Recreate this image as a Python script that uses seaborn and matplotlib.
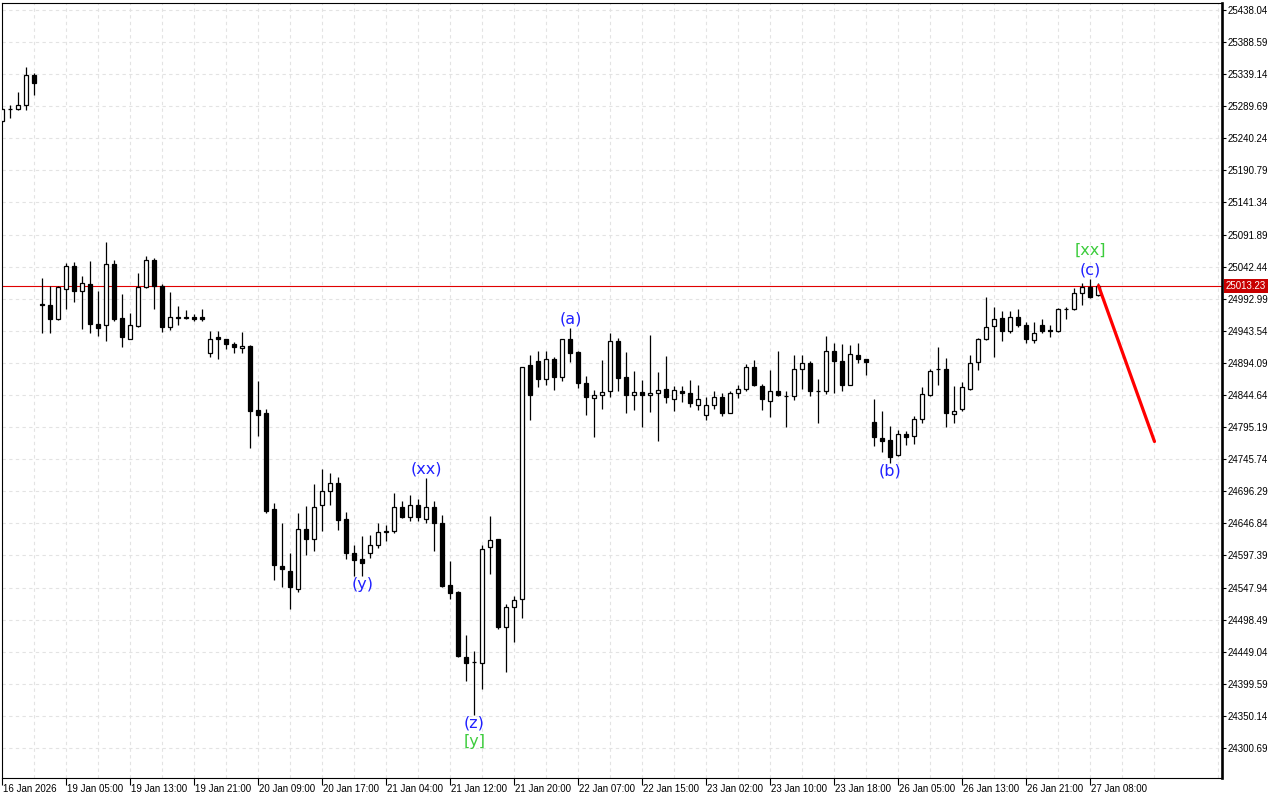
import numpy as np
import pandas as pd
import matplotlib
matplotlib.use("Agg")
import matplotlib.pyplot as plt
import matplotlib.transforms as mtransforms
import seaborn as sns

# hourly candles, one row per bar (bar index 0..137)
opens = [25266.5, 25286.0, 25285.9, 25291.1, 25337.4, 24985.0, 24982.9, 24962.3, 25007.6, 25043.5,
         25005.4, 25015.8, 24954.1, 24952.1, 25046.6, 24963.4, 24931.5, 24951.0, 25010.7, 25052.7,
         25012.7, 24949.0, 24964.4, 24964.0, 24965.4, 24965.4, 24909.0, 24934.6, 24930.5, 24923.3,
         24917.1, 24920.2, 24821.6, 24816.5, 24669.5, 24581.0, 24573.0, 24546.2, 24638.7, 24623.3,
         24674.7, 24697.2, 24708.6, 24653.1, 24600.8, 24591.5, 24600.8, 24614.0, 24634.0, 24634.7,
         24672.6, 24657.2, 24674.7, 24653.1, 24671.6, 24647.0, 24551.5, 24541.1, 24440.5, 24433.0,
         24432.2, 24610.0, 24622.3, 24487.6, 24517.5, 24529.9, 24890.5, 24897.6, 24868.9, 24900.6,
         24872.9, 24930.5, 24911.0, 24862.7, 24840.1, 24844.2, 24850.4, 24927.5, 24872.0, 24844.2,
         24849.3, 24844.2, 24847.3, 24853.5, 24839.0, 24851.3, 24848.2, 24829.8, 24814.3, 24829.8,
         24841.2, 24817.4, 24847.3, 24854.4, 24887.4, 24858.6, 24835.0, 24850.4, 24843.5, 24843.2,
         24885.2, 24894.5, 24851.3, 24851.3, 24912.0, 24896.6, 24860.6, 24905.9, 24899.7, 24803.1,
         24778.4, 24775.3, 24751.8, 24784.6, 24781.5, 24808.2, 24844.2, 24884.3, 24885.2, 24815.4,
         24822.7, 24853.5, 24895.6, 24930.5, 24951.0, 24963.4, 24942.8, 24964.4, 24952.1, 24929.5,
         24953.0, 24944.9, 24942.8, 24977.0, 24976.8, 25002.4, 25011.6, 24998.4]
highs = [25287.0, 25291.1, 25311.6, 25350.6, 25340.4, 25025.0, 25012.7, 25013.3, 25047.6, 25049.7,
         25028.1, 25051.7, 25005.4, 25080.5, 25052.7, 25000.3, 24970.6, 25033.2, 25058.9, 25055.8,
         25015.8, 25003.4, 24981.9, 24975.7, 24969.5, 24977.7, 24943.8, 24942.8, 24931.0, 24926.4,
         24941.8, 24921.0, 24866.7, 24822.7, 24677.8, 24647.0, 24600.8, 24663.3, 24673.7, 24707.6,
         24730.2, 24725.0, 24717.9, 24664.4, 24613.1, 24627.4, 24629.4, 24647.0, 24644.8, 24693.2,
         24681.8, 24690.1, 24684.0, 24716.8, 24681.8, 24659.3, 24588.4, 24543.1, 24475.3, 24450.7,
         24614.0, 24658.3, 24623.3, 24522.6, 24535.0, 24888.0, 24906.8, 24912.0, 24913.0, 24903.7,
         24931.0, 24948.0, 24912.0, 24874.0, 24852.4, 24898.6, 24939.8, 24932.5, 24911.0, 24882.1,
         24867.8, 24936.7, 24880.1, 24904.8, 24858.6, 24858.6, 24867.8, 24859.6, 24842.1, 24850.4,
         24847.3, 24850.4, 24859.6, 24892.5, 24898.6, 24861.7, 24883.2, 24912.0, 24850.4, 24906.8,
         24906.8, 24897.6, 24868.9, 24935.6, 24924.4, 24923.3, 24922.2, 24924.4, 24900.0, 24838.1,
         24820.5, 24797.0, 24790.8, 24789.7, 24812.3, 24856.6, 24884.3, 24919.1, 24901.7, 24858.6,
         24864.7, 24905.9, 24932.5, 24995.3, 24979.9, 24974.6, 24973.7, 24976.8, 24957.2, 24957.2,
         24961.4, 24952.1, 24978.8, 24980.8, 25009.6, 25017.8, 25023.9, 25016.8]
lows = [25265.0, 25271.6, 25283.9, 25283.9, 25307.5, 24940.7, 24940.7, 24960.3, 24977.7, 24988.0,
        24946.9, 24940.7, 24935.6, 24928.4, 24959.2, 24918.2, 24930.5, 24950.0, 25009.0, 24976.8,
        24941.8, 24944.9, 24953.0, 24961.4, 24959.2, 24959.2, 24902.8, 24899.7, 24915.1, 24909.9,
        24909.9, 24763.0, 24781.5, 24662.4, 24559.6, 24549.3, 24515.4, 24541.1, 24598.6, 24604.8,
        24635.6, 24675.7, 24636.7, 24591.5, 24565.8, 24565.8, 24593.5, 24608.9, 24619.3, 24632.5,
        24655.2, 24650.1, 24650.1, 24647.9, 24604.8, 24549.3, 24529.9, 24441.4, 24404.4, 24352.1,
        24392.1, 24568.9, 24483.6, 24417.8, 24464.0, 24501.1, 24806.2, 24857.5, 24860.6, 24852.4,
        24866.7, 24895.6, 24855.5, 24814.3, 24779.5, 24823.6, 24842.1, 24851.3, 24817.4, 24821.6,
        24795.9, 24818.5, 24774.3, 24832.8, 24820.5, 24833.9, 24826.7, 24821.6, 24806.2, 24823.6,
        24812.3, 24817.0, 24840.1, 24851.3, 24858.6, 24821.6, 24810.3, 24843.2, 24795.9, 24837.0,
        24854.4, 24843.2, 24802.0, 24846.3, 24847.3, 24851.3, 24859.6, 24893.5, 24876.0, 24766.1,
        24756.9, 24740.4, 24751.0, 24768.1, 24769.2, 24802.0, 24843.2, 24860.6, 24794.9, 24801.1,
        24820.5, 24852.4, 24883.2, 24930.0, 24902.8, 24928.4, 24939.8, 24949.0, 24925.3, 24925.3,
        24940.7, 24934.6, 24941.8, 24961.4, 24976.0, 24982.9, 24994.2, 24998.0]
closes = [25285.0, 25285.0, 25291.1, 25337.4, 25325.0, 24984.0, 24961.4, 25010.7, 25043.5, 25005.4,
          25016.8, 24954.1, 24948.0, 25046.6, 24962.3, 24933.6, 24952.1, 25010.7, 25052.7, 25012.7,
          24949.0, 24964.4, 24964.0, 24964.5, 24962.3, 24962.3, 24931.5, 24930.5, 24923.3, 24918.2,
          24920.2, 24820.5, 24814.3, 24666.4, 24582.3, 24577.0, 24548.4, 24638.7, 24623.3, 24672.6,
          24696.3, 24708.6, 24652.1, 24601.7, 24590.4, 24586.3, 24614.0, 24633.6, 24635.0, 24672.6,
          24657.2, 24674.7, 24656.3, 24672.6, 24647.9, 24550.4, 24539.1, 24442.5, 24432.2, 24433.5,
          24606.9, 24621.3, 24486.7, 24517.5, 24528.8, 24887.4, 24845.2, 24868.9, 24900.6, 24872.9,
          24930.5, 24909.9, 24863.6, 24842.1, 24844.2, 24849.3, 24927.5, 24870.9, 24845.2, 24849.3,
          24844.2, 24848.2, 24852.4, 24841.2, 24852.4, 24847.3, 24831.9, 24838.1, 24829.8, 24842.1,
          24817.4, 24847.3, 24854.4, 24888.3, 24860.6, 24839.0, 24850.4, 24844.2, 24843.2, 24884.3,
          24893.5, 24851.3, 24851.0, 24913.0, 24896.6, 24860.6, 24907.9, 24899.7, 24895.6, 24779.5,
          24774.3, 24749.6, 24784.6, 24780.5, 24808.2, 24846.3, 24881.1, 24884.8, 24816.5, 24819.6,
          24856.6, 24894.5, 24930.5, 24949.0, 24961.4, 24942.8, 24964.4, 24952.1, 24930.5, 24940.7,
          24942.8, 24942.8, 24976.8, 24977.7, 25002.4, 25010.7, 24995.3, 25013.23]

time_tick_bars = [0, 8, 16, 24, 32, 40, 48, 56, 64, 72, 80, 88, 96, 104, 112, 120, 128, 136]
time_tick_labels = ["16 Jan 2026", "19 Jan 05:00", "19 Jan 13:00", "19 Jan 21:00", "20 Jan 09:00",
                    "20 Jan 17:00", "21 Jan 04:00", "21 Jan 12:00", "21 Jan 20:00", "22 Jan 07:00",
                    "22 Jan 15:00", "23 Jan 02:00", "23 Jan 10:00", "23 Jan 18:00", "26 Jan 05:00",
                    "26 Jan 13:00", "26 Jan 21:00", "27 Jan 08:00"]
price_ticks = [24300.69, 24350.14, 24399.59, 24449.04, 24498.49, 24547.94, 24597.39, 24646.84,
               24696.29, 24745.74, 24795.19, 24844.64, 24894.09, 24943.54, 24992.99, 25042.44,
               25091.89, 25141.34, 25190.79, 25240.24, 25289.69, 25339.14, 25388.59, 25438.04]
price_tick_labels = ["%.2f" % p for p in price_ticks]

last_price = 25013.23

# elliott wave marks
wave_texts = ["(xx)", "(y)", "(z)", "[y]", "(a)", "(b)", "(c)", "[xx]"]
wave_bars = [53, 45, 59, 59, 71, 111, 136, 136]
wave_prices = [24731, 24553, 24339, 24310, 24962, 24728, 25037, 25067]
wave_colors = ["#2020ff", "#2020ff", "#2020ff", "#3ccc3c", "#2020ff", "#2020ff", "#2020ff", "#3ccc3c"]

# projected move
forecast_bars = [137, 144]
forecast_prices = [25013.23, 24773.0]


sns.set_style("white")
plt.rcParams["font.family"] = ["DejaVu Sans"]

df = pd.DataFrame({"open": opens, "high": highs, "low": lows, "close": closes})
df["bar"] = np.arange(len(df))
df["up"] = df["close"] >= df["open"]
df["body_lo"] = df[["open", "close"]].min(axis=1)
df["body_h"] = (df["close"] - df["open"]).abs()

fig = plt.figure(figsize=(12.8, 8), dpi=100)
ax = fig.add_axes([2 / 1280, 22 / 800, 1220 / 1280, 775.3 / 800])

grid_kw = dict(color="#e3e3e3", linestyle=(0, (3, 3)), linewidth=0.8)
ax.set_axisbelow(True)

ax.axhline(last_price, color="#e00000", lw=0.8, zorder=2)

ax.vlines(df["bar"], df["low"], df["high"], color="black", lw=0.9, zorder=3)
ax.bar(df["bar"], df["body_h"], bottom=df["body_lo"], width=0.5,
       color=np.where(df["up"], "white", "black"), edgecolor="black", linewidth=0.9, zorder=4)

sns.lineplot(x=forecast_bars, y=forecast_prices, color="#ff0000", lw=2.3, ax=ax, zorder=6)

for txt, b, p, c in zip(wave_texts, wave_bars, wave_prices, wave_colors):
    ax.text(b, p, txt, ha="center", va="center", color=c, fontsize=11.5, zorder=7)

ax.set_xlim(-0.06, 152.44)
ax.set_ylim(24254.5, 25449.2)

# price scale on the right
ax.yaxis.tick_right()
ax.set_yticks(price_ticks)
ax.set_yticklabels(price_tick_labels, fontfamily="Liberation Sans", fontsize=7)
ax.tick_params(axis="y", which="major", direction="out", length=3, width=0.8, pad=1,
               right=True, left=False, colors="black")

# time scale
ax.set_xticks(time_tick_bars)
ax.set_xticks([b + 4 for b in time_tick_bars] + [144, 152], minor=True)
ax.set_xticklabels(time_tick_labels, fontfamily="Liberation Sans", fontsize=7)
ax.tick_params(axis="x", which="major", direction="out", length=5, width=0.8, pad=-1,
               bottom=True, colors="black")
ax.tick_params(axis="x", which="minor", length=0, bottom=False)
shift = mtransforms.ScaledTranslation(1 / 100, 0, fig.dpi_scale_trans)
for lab in ax.get_xticklabels():
    lab.set_horizontalalignment("left")
    lab.set_transform(lab.get_transform() + shift)

ax.grid(True, which="both", axis="x", **grid_kw)
ax.grid(True, which="major", axis="y", **grid_kw)

for side in ["left", "top", "bottom"]:
    ax.spines[side].set_color("black")
    ax.spines[side].set_linewidth(0.8)
ax.spines["right"].set_color("black")
ax.spines["right"].set_linewidth(1.9)

# current price tag
ax.annotate("%.2f" % last_price, xy=(1, last_price), xycoords=ax.get_yaxis_transform(),
            xytext=(4, 0), textcoords="offset pixels", ha="left", va="center",
            color="white", fontsize=7, fontfamily="Liberation Sans", annotation_clip=False,
            bbox=dict(boxstyle="square,pad=0.2", fc="#c80000", ec="none"), zorder=8)

fig.savefig("out.png", dpi=100)
